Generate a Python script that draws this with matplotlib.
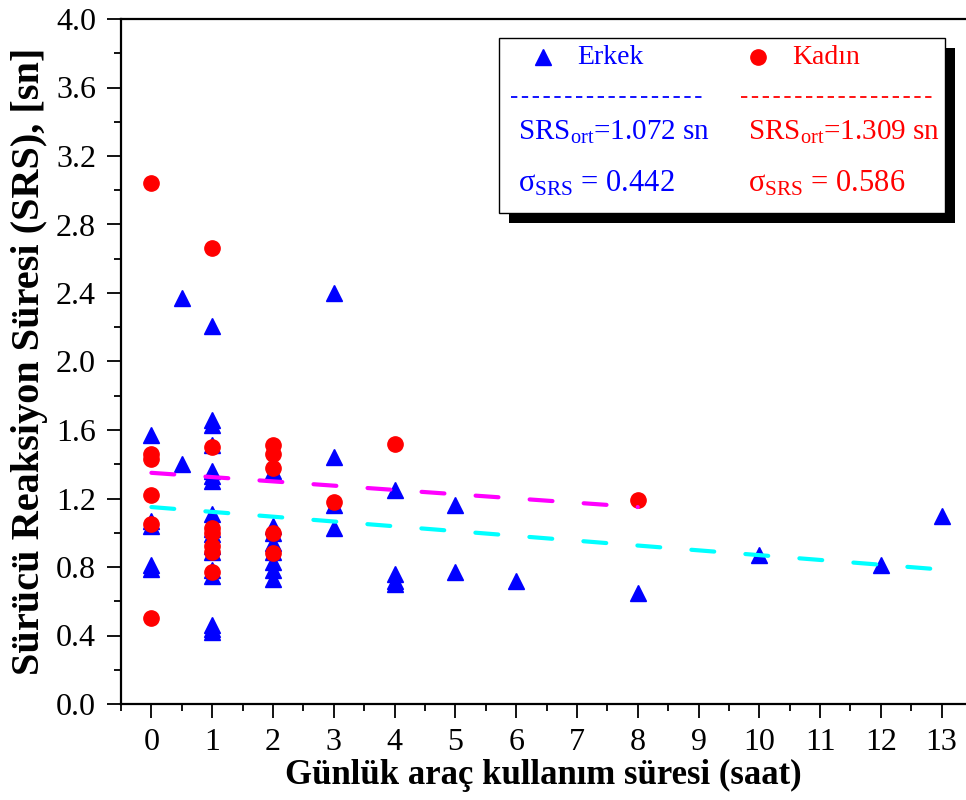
import matplotlib
matplotlib.use("Agg")
import matplotlib.pyplot as plt
from matplotlib.lines import Line2D
from matplotlib.patches import Rectangle
from matplotlib.ticker import MultipleLocator, FormatStrFormatter

plt.rcParams['font.family'] = ['Liberation Serif', 'DejaVu Serif']
plt.rcParams['mathtext.fontset'] = 'custom'
plt.rcParams['mathtext.rm'] = 'Liberation Serif'
plt.rcParams['mathtext.it'] = 'Liberation Serif'

# Erkek (male) drivers: daily driving hours vs reaction time
erkek_x = [0, 0, 0, 0, 0,
           0.5, 0.5,
           1, 1, 1, 1, 1, 1, 1, 1, 1, 1, 1, 1, 1, 1, 1, 1, 1,
           2, 2, 2, 2, 2, 2, 2, 2,
           3, 3, 3, 3,
           4, 4, 4, 4,
           5, 5, 6, 8, 10, 12, 13]
erkek_y = [1.57, 1.07, 1.04, 0.81, 0.79,
           2.37, 1.40,
           2.21, 1.66, 1.63, 1.51, 1.36, 1.33, 1.30, 1.11, 1.02, 0.99, 0.92, 0.89, 0.78, 0.75, 0.46, 0.44, 0.42,
           1.36, 1.04, 1.00, 0.94, 0.89, 0.83, 0.78, 0.73,
           2.40, 1.44, 1.16, 1.03,
           1.25, 0.76, 0.72, 0.70,
           1.16, 0.77, 0.72, 0.65, 0.87, 0.81, 1.10]

# Kadin (female) drivers
kadin_x = [0, 0, 0, 0, 0, 0,
           1, 1, 1, 1, 1, 1, 1,
           2, 2, 2, 2, 2,
           3, 4, 8]
kadin_y = [3.04, 1.46, 1.43, 1.22, 1.05, 0.50,
           2.66, 1.50, 1.03, 1.00, 0.92, 0.89, 0.77,
           1.51, 1.46, 1.38, 1.00, 0.88,
           1.18, 1.52, 1.19]

# trend lines (endpoints)
fit_erkek_x = [0, 13]
fit_erkek_y = [1.15, 0.785]
fit_kadin_x = [0, 8]
fit_kadin_y = [1.35, 1.15]

W, H = 966, 800
fig = plt.figure(figsize=(W / 100, H / 100), dpi=100)
ax = fig.add_axes([121 / W, 1 - 704 / H, (W - 121) / W, (704 - 19) / H])

ax.plot(erkek_x, erkek_y, '^', color='#0000ff', ms=12, mec='#0000ff', zorder=3)
ax.plot(kadin_x, kadin_y, 'o', color='#ff0000', ms=11, mec='#ff0000', zorder=4)
ax.plot(fit_kadin_x, fit_kadin_y, color='#ff00ff', lw=3, dashes=(5.5, 7.5),
        dash_capstyle='round', zorder=5)
ax.plot(fit_erkek_x, fit_erkek_y, color='#00ffff', lw=3, dashes=(5.5, 7.5),
        dash_capstyle='round', zorder=5)

ax.set_xlim(-0.5, 13.4)
ax.set_ylim(0, 4.0)
ax.xaxis.set_major_locator(MultipleLocator(1))
ax.xaxis.set_minor_locator(MultipleLocator(0.5))
ax.yaxis.set_major_locator(MultipleLocator(0.4))
ax.yaxis.set_minor_locator(MultipleLocator(0.2))
ax.yaxis.set_major_formatter(FormatStrFormatter('%.1f'))

ax.spines['right'].set_visible(False)
for s in ['left', 'bottom', 'top']:
    ax.spines[s].set_linewidth(1.6)
ax.tick_params(which='major', direction='out', length=10, width=1.3, top=False, right=False)
ax.tick_params(which='minor', direction='out', length=5, width=1.3, top=False, right=False)
ax.tick_params(axis='x', labelsize=23, pad=7)
ax.tick_params(axis='y', labelsize=23, pad=8)

ax.set_xlabel('Günlük araç kullanım süresi (saat)', fontsize=25, fontweight='bold', labelpad=2)
ax.set_ylabel('Sürücü Reaksiyon Süresi (SRS), [sn]', fontsize=29, fontweight='bold', labelpad=6)


def fx(px):
    return px / W


def fy(py):
    return 1 - py / H


# legend box with shadow
fig.add_artist(Rectangle((fx(509), fy(223)), (955 - 509) / W, (223 - 48) / H,
                         transform=fig.transFigure, facecolor='black', edgecolor='none', zorder=10))
fig.add_artist(Rectangle((fx(499), fy(213)), (945 - 499) / W, (213 - 38) / H,
                         transform=fig.transFigure, facecolor='white', edgecolor='black', lw=1, zorder=11))

fig.add_artist(Line2D([fx(543)], [fy(57)], marker='^', color='#0000ff', ms=12,
                      transform=fig.transFigure, zorder=12))
fig.text(fx(577), fy(57), 'Erkek', color='#0000ff', fontsize=20, va='center', zorder=12)
fig.add_artist(Line2D([fx(758)], [fy(57)], marker='o', color='#ff0000', ms=11,
                      transform=fig.transFigure, zorder=12))
fig.text(fx(792), fy(57), 'Kadın', color='#ff0000', fontsize=20, va='center', zorder=12)

fig.add_artist(Line2D([fx(511), fx(702)], [fy(97), fy(97)], color='#0000ff', lw=1.3,
                      dashes=(3.5, 2.5), transform=fig.transFigure, zorder=12))
fig.add_artist(Line2D([fx(741), fx(933)], [fy(97), fy(97)], color='#ff0000', lw=1.3,
                      dashes=(3.5, 2.5), transform=fig.transFigure, zorder=12))

fig.text(fx(518), fy(140), r'SRS$_{\mathrm{ort}}$=1.072 sn', color='#0000ff', fontsize=21,
         va='baseline', zorder=12)
fig.text(fx(748), fy(140), r'SRS$_{\mathrm{ort}}$=1.309 sn', color='#ff0000', fontsize=21,
         va='baseline', zorder=12)
fig.text(fx(518), fy(192), r'$\sigma_{\mathrm{SRS}}$ = 0.442', color='#0000ff', fontsize=22,
         va='baseline', zorder=12)
fig.text(fx(748), fy(192), r'$\sigma_{\mathrm{SRS}}$ = 0.586', color='#ff0000', fontsize=22,
         va='baseline', zorder=12)

fig.savefig('out.png', dpi=100)
